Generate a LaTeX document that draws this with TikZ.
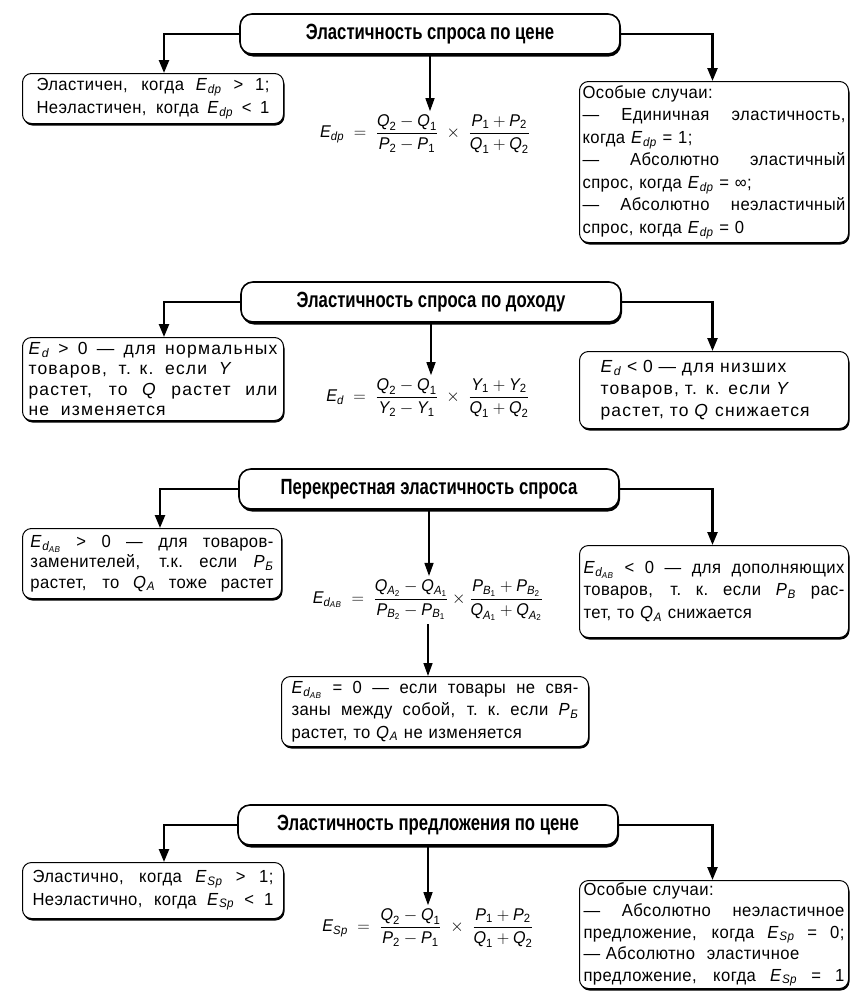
\documentclass[tikz,border=0pt]{standalone}
\usepackage{amsmath}
\usepackage{fontspec}
\setmainfont[FakeStretch=0.95,LetterSpace=2.5]{Liberation Sans}
\newfontfamily\widefont[FakeStretch=1.0,LetterSpace=7]{Liberation Sans}
\newfontfamily\titlefont[FakeStretch=0.76]{Liberation Sans}
\usetikzlibrary{arrows.meta,shadows,calc}
\newlength{\jw}
\newcommand{\jst}[1]{{\spaceskip=0.3em plus 1fil\xspaceskip=0.3em plus 1fil\makebox[\jw][s]{#1}}}
\newcommand{\vs}[2]{\textit{#1}\kern0.3pt\textsubscript{\itshape #2}}
\newcommand{\tv}[1]{\text{\itshape #1}}
\newcommand{\tn}[1]{\text{#1}}
\tikzset{
  ttl/.style={draw, line width=1.6pt, rounded corners=12pt, fill=white,
    minimum width=380pt, minimum height=40pt,
    font=\titlefont\bfseries\fontsize{22}{24}\selectfont,
    drop shadow={shadow xshift=1pt, shadow yshift=-2.5pt, opacity=1, fill=black}},
  tbox/.style={draw, line width=1pt, rounded corners=9pt, fill=white, align=left,
    anchor=north west, inner ysep=2pt,
    font=\fontsize{17.5}{22.5}\selectfont,
    drop shadow={shadow xshift=1pt, shadow yshift=-2pt, opacity=1, fill=black}},
  tw/.style={text width=#1, execute at begin node={\setlength{\jw}{#1}}},
  side/.style={line width=2.4pt, -{Triangle[length=13pt,width=10pt]}},
  mid/.style={line width=1.4pt, -{Triangle[length=13pt,width=9pt]}},
  frm/.style={font=\fontsize{17}{19}\selectfont, inner sep=3pt},
}
\begin{document}
\begin{tikzpicture}[x=1pt,y=-1pt]
\useasboundingbox[fill=white] (0,0) rectangle (852,996);

% ---------- Section 1 ----------
\node[ttl] (T1) at (430,34) {Эластичность спроса по цене};
\node[tbox, minimum width=261pt, minimum height=50pt, inner xsep=14pt, tw=233pt] (L1) at (22,73)
  {\jst{Эластичен, когда \vs{E}{dp} > 1;}\\ \jst{Неэластичен, когда \vs{E}{dp} < 1}};
\node[frm] (F1) at (425,134)
  {$\tv{E}_{\tv{dp}} \;=\; \dfrac{\tv{Q}_{\tn{2}} - \tv{Q}_{\tn{1}}}{\tv{P}_{\tn{2}} - \tv{P}_{\tn{1}}} \;\times\; \dfrac{\tv{P}_{\tn{1}} + \tv{P}_{\tn{2}}}{\tv{Q}_{\tn{1}} + \tv{Q}_{\tn{2}}}$};
\node[tbox, minimum width=269pt, minimum height=161pt, inner xsep=3pt, tw=263pt] (R1) at (579,81)
  {Особые случаи:\\
   \jst{— Единичная эластичность,}\\
   когда \vs{E}{dp} = 1;\\
   \jst{— Абсолютно эластичный}\\
   спрос, когда \vs{E}{dp} = ∞;\\
   \jst{— Абсолютно неэластичный}\\
   спрос, когда \vs{E}{dp} = 0};
\draw[side] (T1.west) -| ([xshift=11pt]L1.north);
\draw[side] (T1.east) -| ([xshift=-1.5pt]R1.north);
\draw[mid] (T1.south) -- (T1.south |- F1.north);

% ---------- Section 2 ----------
\node[ttl] (T2) at (431,302) {Эластичность спроса по доходу};
\node[tbox, minimum width=261pt, minimum height=83pt, inner xsep=6pt, tw=249pt,
      font=\widefont\fontsize{17.5}{20.5}\selectfont] (L2) at (22,337)
  {\jst{\vs{E}{d} > 0 — для нормальных}\\
   товаров,\ \ т. к.\ \ если\ \ \textit{Y}\\
   \jst{растет, то \textit{Q} растет или}\\
   не\ \ изменяется};
\node[frm] (F2) at (428,398)
  {$\tv{E}_{\tv{d}} \;=\; \dfrac{\tv{Q}_{\tn{2}} - \tv{Q}_{\tn{1}}}{\tv{Y}_{\tn{2}} - \tv{Y}_{\tn{1}}} \;\times\; \dfrac{\tv{Y}_{\tn{1}} + \tv{Y}_{\tn{2}}}{\tv{Q}_{\tn{1}} + \tv{Q}_{\tn{2}}}$};
\node[tbox, minimum width=269pt, minimum height=77pt, inner xsep=21pt, tw=227pt,
      font=\widefont\fontsize{17.5}{22}\selectfont] (R2) at (579,351)
  {\vs{E}{d} < 0 — для низших\\
   товаров, т. к. если \textit{Y}\\
   растет, то \textit{Q} снижается};
\draw[side] (T2.west) -| ([xshift=11pt]L2.north);
\draw[side] (T2.east) -| ([xshift=-1.5pt]R2.north);
\draw[mid] (T2.south) -- (T2.south |- F2.north);

% ---------- Section 3 ----------
\node[ttl] (T3) at (429,489) {Перекрестная эластичность спроса};
\node[tbox, minimum width=259pt, minimum height=70pt, inner xsep=8pt, tw=243pt,
      font=\fontsize{17.5}{20.5}\selectfont] (L3) at (22,528)
  {\jst{\vs{E}{d\textsubscript{AB}} > 0 — для товаров-}\\
   \jst{заменителей, т.к. если \vs{P}{Б}}\\
   \jst{растет, то \vs{Q}{A} тоже растет}};
\node[frm] (F3) at (428,600)
  {$\tv{E}_{\tv{d}_{\tv{AB}}} \;=\; \dfrac{\tv{Q}_{\tv{A}_{\tn{2}}} - \tv{Q}_{\tv{A}_{\tn{1}}}}{\tv{P}_{\tv{B}_{\tn{2}}} - \tv{P}_{\tv{B}_{\tn{1}}}} \times \dfrac{\tv{P}_{\tv{B}_{\tn{1}}} + \tv{P}_{\tv{B}_{\tn{2}}}}{\tv{Q}_{\tv{A}_{\tn{1}}} + \tv{Q}_{\tv{A}_{\tn{2}}}}$};
\node[tbox, minimum width=269pt, minimum height=92pt, inner xsep=4pt, tw=261pt] (R3) at (579,545)
  {\jst{\vs{E}{d\textsubscript{AB}} < 0 — для дополняющих}\\
   \jst{товаров, т. к. если \vs{P}{B} рас-}\\
   тет, то \vs{Q}{A} снижается};
\node[tbox, minimum width=307pt, minimum height=70pt, inner xsep=10pt, tw=287pt] (B3) at (281,676)
  {\jst{\vs{E}{d\textsubscript{AB}} = 0 — если товары не свя-}\\
   \jst{заны между собой, т. к. если \vs{P}{Б}}\\
   растет, то \vs{Q}{A} не изменяется};
\draw[side] (T3.west) -| ([xshift=8pt]L3.north);
\draw[side] (T3.east) -| ([xshift=-1.5pt]R3.north);
\draw[mid] (T3.south) -- (T3.south |- F3.north);
\draw[mid] (F3.south) -- (F3.south |- B3.north);

% ---------- Section 4 ----------
\node[ttl] (T4) at (428,825) {Эластичность предложения по цене};
\node[tbox, minimum width=261pt, minimum height=56pt, inner xsep=10pt, tw=241pt] (L4) at (22,862)
  {\jst{Эластично, когда \vs{E}{Sp} > 1;}\\ \jst{Неэластично, когда \vs{E}{Sp} < 1}};
\node[frm] (F4) at (428,928)
  {$\tv{E}_{\tv{Sp}} \;=\; \dfrac{\tv{Q}_{\tn{2}} - \tv{Q}_{\tn{1}}}{\tv{P}_{\tn{2}} - \tv{P}_{\tn{1}}} \;\times\; \dfrac{\tv{P}_{\tn{1}} + \tv{P}_{\tn{2}}}{\tv{Q}_{\tn{1}} + \tv{Q}_{\tn{2}}}$};
\node[tbox, minimum width=269pt, minimum height=108pt, inner xsep=4pt, tw=261pt,
      font=\fontsize{17.5}{21.5}\selectfont] (R4) at (579,880)
  {Особые случаи:\\
   \jst{— Абсолютно неэластичное}\\
   \jst{предложение, когда \vs{E}{Sp} = 0;}\\
   — Абсолютно\ \ эластичное\\
   \jst{предложение, когда \vs{E}{Sp} = 1}};
\draw[side] (T4.west) -| ([xshift=11pt]L4.north);
\draw[side] (T4.east) -| ([xshift=-1.5pt]R4.north);
\draw[mid] (T4.south) -- (T4.south |- F4.north);
\end{tikzpicture}
\end{document}
